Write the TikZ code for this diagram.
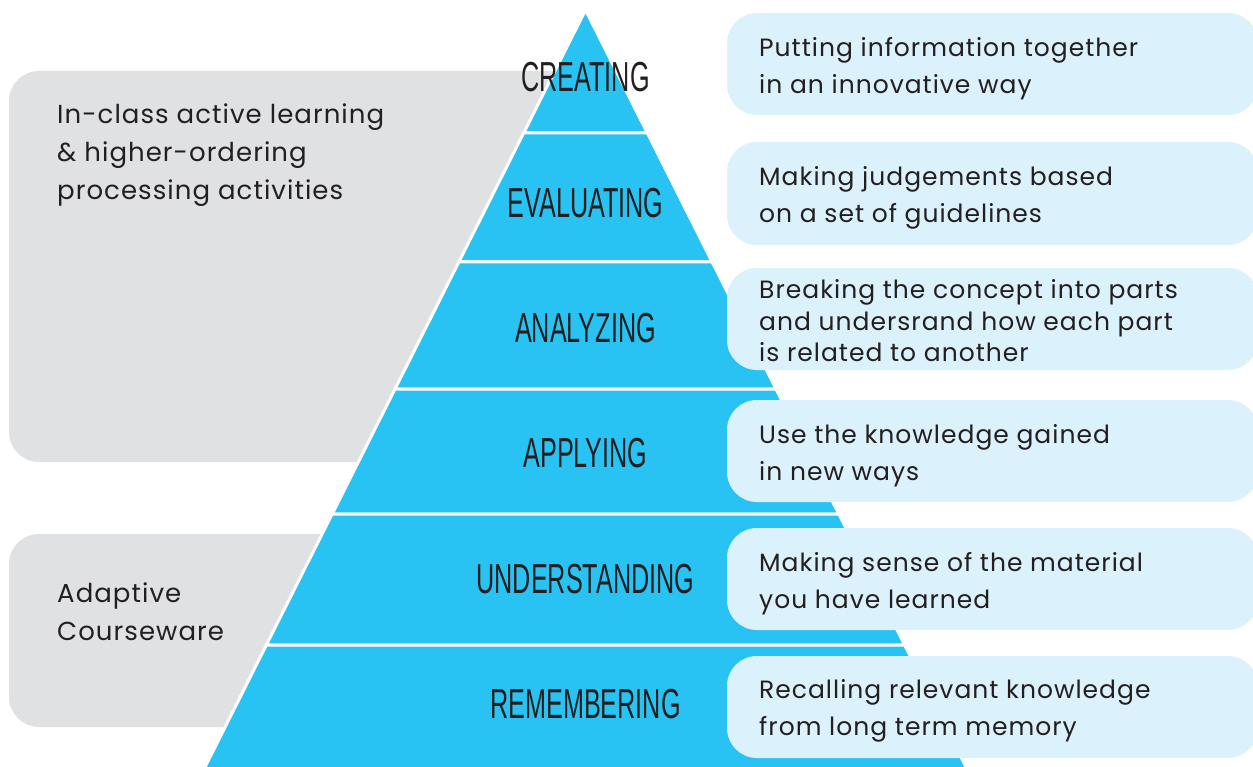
\documentclass[tikz,border=0pt]{standalone}
\usepackage{fontspec}
\setmainfont{Poppins}[LetterSpace=4]
\newfontfamily\condfont[FakeStretch=0.6]{Liberation Sans}
\definecolor{pyr}{RGB}{40,195,242}
\definecolor{graybox}{RGB}{224,225,227}
\definecolor{lightbox}{RGB}{219,241,252}
\definecolor{ink}{RGB}{35,31,32}
\tikzset{
  band/.style={fill=pyr, draw=white, line width=3pt, line join=miter},
  grayrect/.style={fill=graybox, rounded corners=30pt},
  descbox/.style={fill=lightbox, rounded corners=30pt},
  level/.style={font=\condfont\fontsize{42}{42}\selectfont, text=ink, inner sep=0pt},
  desc/.style={font=\fontsize{25}{37}\selectfont, text=ink, align=left, anchor=west, inner sep=0pt},
  side/.style={font=\fontsize{26}{38}\selectfont, text=ink, align=left, anchor=west, inner sep=0pt}
}
\begin{document}
\begin{tikzpicture}[x=1pt,y=-1pt]
\useasboundingbox (0,0) rectangle (1253,767);
% gray boxes
\path[grayrect] (9,71) rectangle (580,462);
\path[grayrect] (9,534) rectangle (420,727);
% pyramid bands
\def\xl#1{585.5-0.5026*(#1-10)}
\def\xr#1{585.5+0.5026*(#1-10)}
\path[band] (585.5,10) -- ({\xr{133}},133) -- ({\xl{133}},133) -- cycle;
\path[band] ({\xl{133}},133) -- ({\xr{133}},133) -- ({\xr{262}},262) -- ({\xl{262}},262) -- cycle;
\path[band] ({\xl{262}},262) -- ({\xr{262}},262) -- ({\xr{389}},389) -- ({\xl{389}},389) -- cycle;
\path[band] ({\xl{389}},389) -- ({\xr{389}},389) -- ({\xr{514}},514) -- ({\xl{514}},514) -- cycle;
\path[band] ({\xl{514}},514) -- ({\xr{514}},514) -- ({\xr{645}},645) -- ({\xl{645}},645) -- cycle;
\path[band] ({\xl{645}},645) -- ({\xr{645}},645) -- ({\xr{790}},790) -- ({\xl{790}},790) -- cycle;
% level labels
\node[level] (creating) at (585.5,77) {CREATING};
\node[level] (evaluating) at (585.5,203) {EVALUATING};
\node[level] (analyzing) at (585.5,328) {ANALYZING};
\node[level] (applying) at (585.5,453) {APPLYING};
\node[level] (understanding) at (585.5,579) {UNDERSTANDING};
\node[level] (remembering) at (585.5,704) {REMEMBERING};
% description boxes
\path[descbox] (727,13) rectangle (1258,115);
\path[descbox] (727,142) rectangle (1258,245);
\path[descbox] (727,268) rectangle (1258,370);
\path[descbox] (727,400) rectangle (1258,502);
\path[descbox] (727,528) rectangle (1258,630);
\path[descbox] (727,656) rectangle (1258,758);
\node[desc] (d1) at (759,69) {Putting information together\\in an innovative way};
\node[desc] (d2) at (759,198) {Making judgements based\\on a set of guidelines};
\node[desc, font=\fontsize{25}{31.5}\selectfont] (d3) at (759,321) {Breaking the concept into parts\\and undersrand how each part\\is related to another};
\node[desc] (d4) at (759,456) {Use the knowledge gained\\in new ways};
\node[desc] (d5) at (759,584) {Making sense of the material\\you have learned};
\node[desc] (d6) at (759,711) {Recalling relevant knowledge\\from long term memory};
% side labels
\node[side] (inclass) at (57,155) {In-class active learning\\\& higher-ordering\\processing activities};
\node[side] (adaptive) at (57,612) {Adaptive\\Courseware};
\end{tikzpicture}
\end{document}
